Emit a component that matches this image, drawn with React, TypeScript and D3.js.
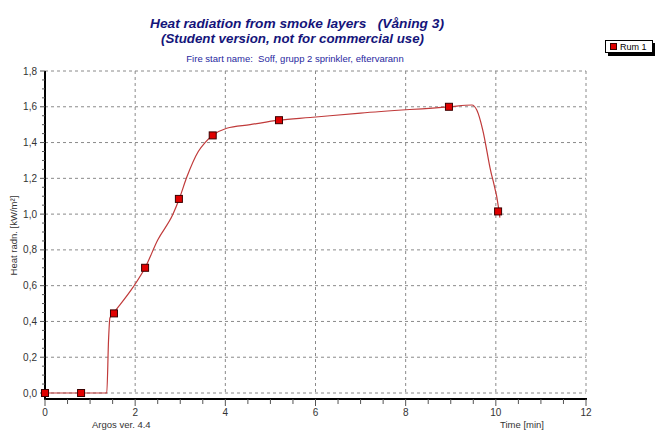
import React from "react";
import * as d3 from "d3";

// curve (time in min, heat radiation in kW/m²)
const curveTime = [0, 0.8, 1.37, 1.41, 1.44, 1.53, 1.95, 2.22, 2.5, 2.84, 2.97, 3.15, 3.4, 3.55, 3.72, 4.03, 4.55, 5.19, 5.88, 7.0, 8.96, 9.47, 9.58, 9.71, 9.87, 10.07, 10.09];
const curveValue = [0, 0, 0, 0.3, 0.42, 0.45, 0.59, 0.7, 0.855, 1.0, 1.08, 1.21, 1.35, 1.4, 1.44, 1.48, 1.5, 1.525, 1.54, 1.565, 1.6, 1.61, 1.58, 1.47, 1.26, 1.02, 0.98];

// marked points
const markTime = [0, 0.8, 1.53, 2.22, 2.97, 3.72, 5.19, 8.96, 10.05];
const markValue = [0, 0, 0.445, 0.7, 1.085, 1.44, 1.525, 1.6, 1.015];

const xTicks = [0, 2, 4, 6, 8, 10, 12];
const yTicks = [0, 0.2, 0.4, 0.6, 0.8, 1.0, 1.2, 1.4, 1.6, 1.8];

const FONT = "'Liberation Sans', Arial, sans-serif";

const App = () => {
  const left = 45, right = 586, top = 71, bottom = 393;
  const axisY = 399;
  const x = d3.scaleLinear().domain([0, 12]).range([left, right]);
  const y = d3.scaleLinear().domain([0, 1.8]).range([bottom, top]);

  const pts: [number, number][] = curveTime.map((t, i) => [t, curveValue[i]]);
  const line = d3
    .line<[number, number]>()
    .x((d) => x(d[0]))
    .y((d) => y(d[1]))
    .curve(d3.curveMonotoneX);

  const fmt = (v: number) => v.toFixed(1).replace(".", ",");
  const xMinor = d3.range(0, 12.01, 0.5);
  const yMinor = d3.range(0, 1.801, 0.05);

  return (
    <svg width={656} height={430} style={{ position: "absolute", left: 0, top: 0, background: "#fff" }} fontFamily={FONT}>
      <rect width={656} height={430} fill="#fff" />
      {/* titles */}
      <text x={297} y={27.5} textAnchor="middle" fontSize={13.5} fontWeight="bold" fontStyle="italic" fill="#14147a"
        textLength={294} lengthAdjust="spacingAndGlyphs" style={{ whiteSpace: "pre" }}>
        {"Heat radiation from smoke layers   (Våning 3)"}
      </text>
      <text x={292.5} y={43} textAnchor="middle" fontSize={13.5} fontWeight="bold" fontStyle="italic" fill="#14147a"
        textLength={263} lengthAdjust="spacingAndGlyphs">
        (Student version, not for commercial use)
      </text>
      <text x={295} y={62.3} textAnchor="middle" fontSize={9.5} fill="#2828a0" style={{ whiteSpace: "pre" }}>
        {"Fire start name:  Soff, grupp 2 sprinkler, eftervarann"}
      </text>

      {/* grid */}
      {xTicks.slice(1).map((t) => (
        <line key={"gx" + t} x1={x(t)} x2={x(t)} y1={top} y2={bottom} stroke="#8a8a8a" strokeDasharray="3,3" />
      ))}
      {yTicks.map((v) => (
        <line key={"gy" + v} x1={left} x2={right} y1={y(v)} y2={y(v)} stroke="#8a8a8a" strokeDasharray="3,3" />
      ))}

      {/* axes */}
      <line x1={left} x2={left} y1={top} y2={axisY + 1} stroke="#000" strokeWidth={2} />
      <line x1={left} x2={right + 1} y1={axisY} y2={axisY} stroke="#000" strokeWidth={2} />
      {yMinor.map((v, i) => (
        <line key={"ym" + i} x1={i % 4 === 0 ? 40 : 42} x2={left} y1={y(v)} y2={y(v)} stroke="#555" />
      ))}
      {xMinor.map((t, i) => (
        <line key={"xm" + i} x1={x(t)} x2={x(t)} y1={axisY} y2={i % 4 === 0 ? 406 : 404} stroke="#555" />
      ))}
      {yTicks.map((v) => (
        <text key={"yl" + v} x={37} y={y(v) + 3.5} textAnchor="end" fontSize={10} fill="#333">
          {fmt(v)}
        </text>
      ))}
      {xTicks.map((t) => (
        <text key={"xl" + t} x={x(t)} y={416} textAnchor="middle" fontSize={10} fill="#333">
          {t}
        </text>
      ))}
      <text transform={`translate(17,${y(0.88)}) rotate(-90)`} textAnchor="middle" fontSize={9.5} fill="#333">
        Heat radn. [kW/m²]
      </text>
      <text x={92} y={428} fontSize={9.5} fill="#333">Argos ver. 4.4</text>
      <text x={500} y={428} fontSize={9.5} fill="#333">Time [min]</text>

      {/* data */}
      <path d={line(pts) || ""} fill="none" stroke="#c03a3a" strokeWidth={1.2} />
      {markTime.map((t, i) => (
        <rect key={"m" + i} x={x(t) - 3.5} y={y(markValue[i]) - 3.5} width={7} height={7} fill="#e00000" stroke="#3a0000" strokeWidth={1} />
      ))}

      {/* legend */}
      <rect x={608} y={43} width={47} height={13} fill="#000" />
      <rect x={605.5} y={40.5} width={47} height={12} fill="#fff" stroke="#000" />
      <rect x={610.5} y={43.5} width={6} height={6} fill="#e00000" stroke="#3a0000" />
      <text x={620} y={50} fontSize={9} fill="#000">Rum 1</text>
    </svg>
  );
};

export default App;
